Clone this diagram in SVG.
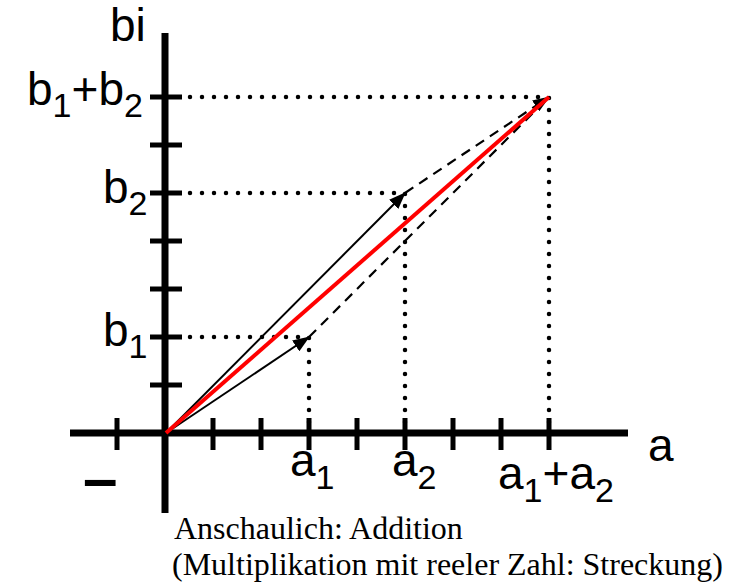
<svg xmlns="http://www.w3.org/2000/svg" width="729" height="583" viewBox="0 0 729 583">
<style>
.lbl{font-family:"Liberation Sans",Arial,sans-serif;font-size:46px;fill:#000}
.sub{font-size:34px}
.cap{font-family:"Liberation Serif","Times New Roman",serif;font-size:32px;fill:#000}
.axis{stroke:#000;stroke-width:7;fill:none}
.tick{stroke:#000;stroke-width:5;fill:none}
.dot{stroke:#000;stroke-width:4.5;stroke-linecap:round;stroke-dasharray:0 12;fill:none}
.vec{stroke:#000;stroke-width:2;fill:none}
.dash{stroke:#000;stroke-width:2.2;stroke-dasharray:10 7;fill:none}
.sum{stroke:#ff0000;stroke-width:4;fill:none}
</style>
<defs>
<marker id="ah" markerUnits="userSpaceOnUse" markerWidth="17" markerHeight="13" refX="16" refY="6.5" orient="auto">
<path d="M0,0 L17,6.5 L0,13 z" fill="#000"/>
</marker>
</defs>
<rect width="729" height="583" fill="#fff"/>
<g id="axes">
<line class="axis" x1="70" y1="433" x2="628" y2="433"/>
<line class="axis" x1="165" y1="33" x2="165" y2="513"/>
<g class="tick">
<line x1="117" y1="418" x2="117" y2="450"/>
<line x1="213" y1="418" x2="213" y2="450"/>
<line x1="261" y1="418" x2="261" y2="450"/>
<line x1="309" y1="418" x2="309" y2="450"/>
<line x1="357" y1="418" x2="357" y2="450"/>
<line x1="405" y1="418" x2="405" y2="450"/>
<line x1="453" y1="418" x2="453" y2="450"/>
<line x1="501" y1="418" x2="501" y2="450"/>
<line x1="549" y1="418" x2="549" y2="450"/>
<line x1="150" y1="97" x2="182" y2="97"/>
<line x1="150" y1="145" x2="182" y2="145"/>
<line x1="150" y1="193" x2="182" y2="193"/>
<line x1="150" y1="241" x2="182" y2="241"/>
<line x1="150" y1="289" x2="182" y2="289"/>
<line x1="150" y1="337" x2="182" y2="337"/>
<line x1="150" y1="385" x2="182" y2="385"/>
</g>
</g>
<g id="connectors">
<path class="dot" d="M190,97 H549 V430"/>
<path class="dot" d="M190,193 H405 V430"/>
<path class="dot" d="M190,337 H309 V430"/>
<line class="dash" x1="309" y1="337" x2="549" y2="97"/>
<line class="dash" x1="405" y1="193" x2="549" y2="97" marker-end="url(#ah)"/>
<line class="vec" x1="166" y1="433" x2="309" y2="337" marker-end="url(#ah)"/>
<line class="vec" x1="166" y1="433" x2="405" y2="193" marker-end="url(#ah)"/>
<line class="sum" x1="166" y1="433" x2="549" y2="97"/>
</g>
<g id="labels">
<text class="lbl" x="110" y="41">bi</text>
<text class="lbl" x="27" y="105">b<tspan class="sub" dy="12">1</tspan><tspan dy="-12">+b</tspan><tspan class="sub" dy="12">2</tspan></text>
<text class="lbl" x="103" y="203">b<tspan class="sub" dy="12">2</tspan></text>
<text class="lbl" x="103" y="346">b<tspan class="sub" dy="12">1</tspan></text>
<text class="lbl" x="648" y="461">a</text>
<text class="lbl" x="290" y="476">a<tspan class="sub" dy="13">1</tspan></text>
<text class="lbl" x="392" y="476">a<tspan class="sub" dy="13">2</tspan></text>
<text class="lbl" x="498" y="489">a<tspan class="sub" dy="13">1</tspan><tspan dy="-13">+a</tspan><tspan class="sub" dy="13">2</tspan></text>
<text class="lbl" x="83" y="499" style="font-size:62px;font-weight:bold">–</text>
</g>
<g id="caption">
<text class="cap" x="174" y="539">Anschaulich: Addition</text>
<text class="cap" x="172" y="575">(Multiplikation mit reeler Zahl: Streckung)</text>
</g>
</svg>
